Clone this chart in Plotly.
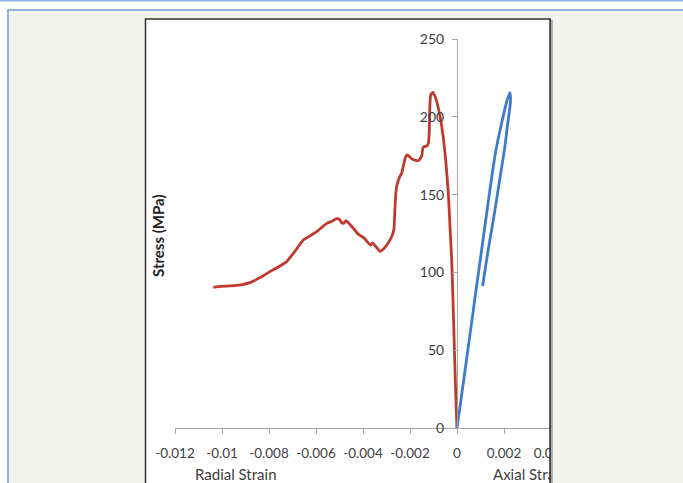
import plotly.graph_objects as go

# ---------------- data ----------------
radial_strain = [0, -0.00005, -0.00011, -0.00017, -0.000226, -0.0003, -0.00037, -0.00048,
                 -0.00065, -0.00080, -0.00093, -0.00103, -0.00112, -0.00116, -0.00118,
                 -0.00122, -0.00130, -0.00137, -0.00145, -0.00150, -0.00162, -0.00175,
                 -0.00193, -0.00210, -0.00218, -0.00226, -0.00235, -0.00245, -0.00252,
                 -0.00258, -0.00262, -0.00265, -0.00268, -0.00275, -0.00292, -0.00310,
                 -0.00328, -0.00345, -0.00359, -0.00367, -0.00378, -0.00395, -0.00420,
                 -0.00445, -0.00472, -0.00482, -0.00491, -0.00500, -0.00512, -0.00530,
                 -0.00554, -0.00575, -0.00597, -0.00625, -0.00654, -0.00690, -0.00725,
                 -0.00760, -0.00796, -0.00840, -0.00881, -0.00920, -0.00966, -0.01005,
                 -0.01037]
radial_stress = [0, 20, 50, 82, 108, 130, 151, 172,
                 194, 206, 213, 215.7, 214, 205, 190,
                 183, 181, 181, 180, 175, 172, 172,
                 173, 175.5, 174.5, 170, 164, 161, 158,
                 154, 147, 138, 128, 124, 119, 115.5,
                 113.5, 116.5, 119, 117.5, 119, 122, 124.5,
                 129, 133.2, 131.5, 132, 134, 134.5, 133,
                 131.5, 129, 126.2, 123.5, 120.8, 113.5, 106.9,
                 103.5, 100.5, 96.5, 93.4, 92.0, 91.3, 91.0,
                 90.4]

axial_strain = [0, 0.00037, 0.00075, 0.0011, 0.0014, 0.00165, 0.0019, 0.00212, 0.00225,
                0.00228, 0.00226, 0.00215, 0.00204, 0.0018, 0.00155, 0.0013, 0.00109]
axial_stress = [0, 40, 82, 120, 153, 178, 196, 210, 215.5,
                212, 207, 195, 181, 158, 134, 112, 91.3]

x_tickvals = [-0.012, -0.01, -0.008, -0.006, -0.004, -0.002, 0, 0.002, 0.004]
x_ticktext = ["-0.012", "-0.01", "-0.008", "-0.006", "-0.004", "-0.002", "0", "0.002", "0.004"]
y_tickvals = [0, 50, 100, 150, 200, 250]

# ---------------- layout geometry (pixels) ----------------
W, H = 683, 483
L, R, T, B = 175, 560, 39, 428
PX_PER_UNIT = (457 - 175) / 0.012
x_min = -0.012
x_max = x_min + (R - L) / PX_PER_UNIT
y_min, y_max = 0, 250


def px(x):
    return (x - L) / (R - L)


def py(y):
    return (B - y) / (B - T)


BG = "#f3f3ee"
BLUE_BORDER = "#8fb4e3"
TXT = "#404040"
FONT = "Lato"

fig = go.Figure()
fig.add_trace(go.Scatter(x=radial_strain, y=radial_stress, mode="lines",
                         line=dict(color="#c0392f", width=2.8, shape="spline", smoothing=0.4),
                         showlegend=False))
fig.add_trace(go.Scatter(x=axial_strain, y=axial_stress, mode="lines",
                         line=dict(color="#3d7cca", width=2.8, shape="spline", smoothing=0.4),
                         showlegend=False))

shapes = [
    # page background panel
    dict(type="rect", xref="paper", yref="paper", x0=px(8), x1=px(W + 5), y0=py(10), y1=py(H + 5),
         fillcolor=BG, line=dict(width=0), layer="below"),
    # top blue lines and left border
    dict(type="rect", xref="paper", yref="paper", x0=px(-5), x1=px(W + 5), y0=py(0), y1=py(1.5),
         fillcolor=BLUE_BORDER, line=dict(width=0), layer="below"),
    dict(type="rect", xref="paper", yref="paper", x0=px(7), x1=px(W + 5), y0=py(9), y1=py(11),
         fillcolor=BLUE_BORDER, line=dict(width=0), layer="below"),
    dict(type="rect", xref="paper", yref="paper", x0=px(7), x1=px(9), y0=py(9), y1=py(H + 5),
         fillcolor=BLUE_BORDER, line=dict(width=0), layer="below"),
    # white chart box
    dict(type="rect", xref="paper", yref="paper", x0=px(145.5), x1=px(551), y0=py(19), y1=py(H + 10),
         fillcolor="white", line=dict(color="#333333", width=1.5), layer="below"),
    # cover to the right of the chart box (clips the axis)
    dict(type="rect", xref="paper", yref="paper", x0=px(551), x1=px(W + 5), y0=py(11.5), y1=py(H + 5),
         fillcolor=BG, line=dict(width=0), layer="above"),
    dict(type="line", xref="paper", yref="paper", x0=px(550), x1=px(550), y0=py(19), y1=py(H + 5),
         line=dict(color="#333333", width=1.5), layer="above"),
    dict(type="line", xref="paper", yref="paper", x0=px(552), x1=px(552), y0=py(20), y1=py(H + 5),
         line=dict(color="#9a9a9a", width=1.5), layer="above"),
]

annotations = [
    dict(text="Radial Strain", x=px(236), y=py(474), xref="paper", yref="paper",
         showarrow=False, xanchor="center", yanchor="middle",
         font=dict(family=FONT, size=15, color=TXT)),
    dict(text="Axial Strain", x=px(491), y=py(474), xref="paper", yref="paper",
         showarrow=False, xanchor="left", yanchor="middle", align="left", width=58,
         font=dict(family=FONT, size=15, color=TXT)),
    dict(text="<b>Stress (MPa)</b>", x=px(158), y=py(236), xref="paper", yref="paper",
         showarrow=False, xanchor="center", yanchor="middle", textangle=-90,
         font=dict(family=FONT, size=15, color="#222222")),
]

fig.update_layout(
    width=W, height=H,
    margin=dict(l=L, r=W - R, t=T, b=H - B, pad=0),
    paper_bgcolor="white",
    plot_bgcolor="rgba(0,0,0,0)",
    shapes=shapes,
    annotations=annotations,
    showlegend=False,
    xaxis=dict(range=[x_min, x_max], tickvals=x_tickvals, ticktext=x_ticktext,
               showgrid=False, zeroline=False, showline=True, linecolor="#a6a6a6", linewidth=1,
               ticks="outside", ticklen=5, tickcolor="#a6a6a6",
               tickfont=dict(family=FONT, size=13.5, color=TXT), ticklabelstandoff=8,
               fixedrange=True),
    yaxis=dict(range=[y_min, y_max], tickvals=y_tickvals, anchor="free",
               position=(0 - x_min) / (x_max - x_min),
               showgrid=False, zeroline=False, showline=True, linecolor="#a6a6a6", linewidth=1,
               ticks="outside", ticklen=5, tickcolor="#a6a6a6",
               tickfont=dict(family=FONT, size=14, color=TXT), ticklabelstandoff=5,
               fixedrange=True),
)

fig.write_html("out.html")
